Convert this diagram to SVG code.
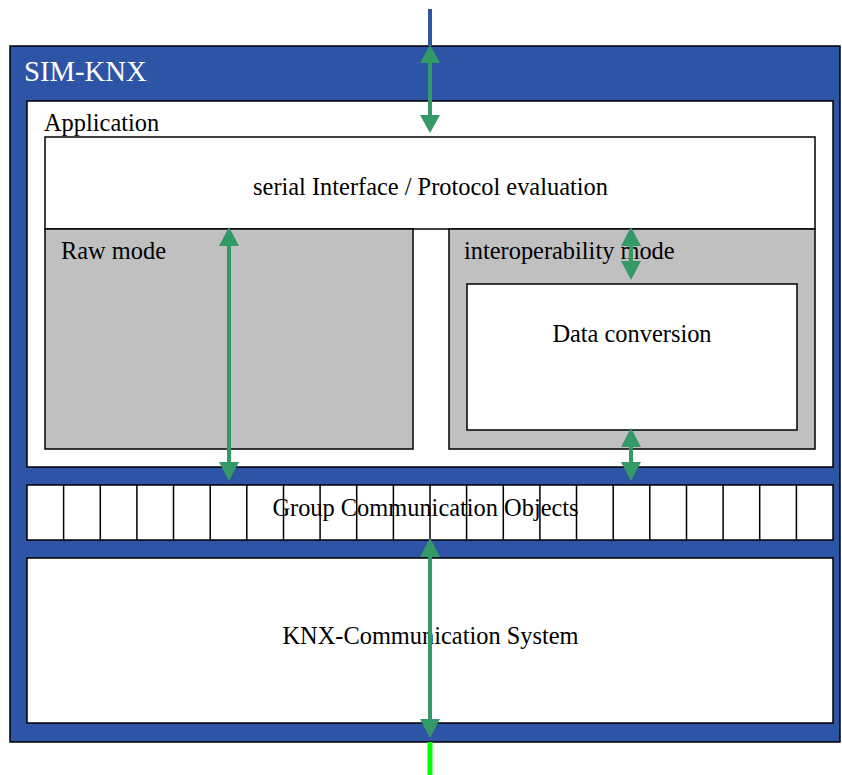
<svg xmlns="http://www.w3.org/2000/svg" width="842" height="775" viewBox="0 0 842 775">
<style>
.box{stroke:#000;stroke-width:1.5}
.w{fill:#fff}
.g{fill:#c0c0c0}
.t{font-family:"Liberation Serif","Times New Roman",serif;font-size:24.4px;fill:#000}
.c{text-anchor:middle}
.ar{fill:#339966}
.sh{stroke:#339966;stroke-width:4}
</style>
<rect width="842" height="775" fill="#fff"/>
<g id="sim-knx">
<rect class="box" x="10" y="46" width="830" height="696" fill="#2e54a6"/>
<text x="24" y="81" style="font-family:'Liberation Serif','Times New Roman',serif;font-size:28.7px;fill:#fff">SIM-KNX</text>
</g>
<g id="application">
<rect class="box w" x="27" y="101" width="806" height="366"/>
<text class="t" x="44" y="131">Application</text>
</g>
<g id="serial-interface">
<rect class="box w" x="45" y="137" width="770" height="92"/>
<text class="t c" x="430.5" y="195">serial Interface / Protocol evaluation</text>
</g>
<g id="raw-mode">
<rect class="box g" x="45" y="229" width="368" height="220"/>
<text class="t" x="61" y="259">Raw mode</text>
</g>
<g id="interoperability-mode">
<rect class="box g" x="449" y="229" width="366" height="220"/>
<text class="t" x="464" y="259">interoperability mode</text>
</g>
<g id="data-conversion">
<rect class="box w" x="467" y="284" width="330" height="146"/>
<text class="t c" x="632" y="342">Data conversion</text>
</g>
<g id="group-communication-objects">
<rect class="box w" x="27" y="485" width="806" height="55"/>
<path stroke="#000" stroke-width="1.5" d="M63.6 485V540M100.3 485V540M136.9 485V540M173.5 485V540M210.2 485V540M246.8 485V540M283.5 485V540M320.1 485V540M356.7 485V540M393.4 485V540M430 485V540M466.6 485V540M503.3 485V540M539.9 485V540M576.5 485V540M613.2 485V540M649.8 485V540M686.5 485V540M723.1 485V540M759.7 485V540M796.4 485V540"/>
<text class="t c" x="425.5" y="516">Group Communication Objects</text>
</g>
<g id="knx-communication-system">
<rect class="box w" x="27" y="558" width="806" height="165"/>
<text class="t c" x="430.5" y="644">KNX-Communication System</text>
</g>
<g id="connectors">
<line x1="430" y1="9" x2="430" y2="46" stroke="#2e54a6" stroke-width="4"/>
<line x1="430" y1="742" x2="430" y2="775" stroke="#00ff00" stroke-width="5"/>
<line class="sh" x1="430" y1="60" x2="430" y2="118"/>
<path class="ar" d="M430 45L420 63H440ZM430 133L420 115H440Z"/>
<line class="sh" x1="229" y1="243" x2="229" y2="466"/>
<path class="ar" d="M229 227L219 246H239ZM229 481L219 462H239Z"/>
<line class="sh" x1="631" y1="243" x2="631" y2="265"/>
<path class="ar" d="M631 227L621 246H641ZM631 280L621 261H641Z"/>
<line class="sh" x1="631" y1="444" x2="631" y2="466"/>
<path class="ar" d="M631 428L621 447H641ZM631 481L621 462H641Z"/>
<line class="sh" x1="430" y1="554" x2="430" y2="722"/>
<path class="ar" d="M430 538L420 557H440ZM430 738L420 719H440Z"/>
</g>
</svg>
